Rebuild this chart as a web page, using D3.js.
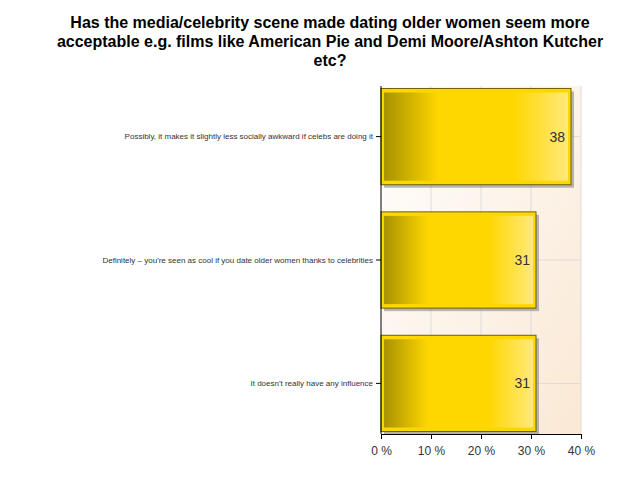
<!DOCTYPE html><html><head><meta charset="utf-8">
<script src="https://cdn.jsdelivr.net/npm/d3@7"></script>
<style>body{margin:0;background:#fff;font-family:Arial,"Liberation Sans",sans-serif}</style></head><body>
<svg id="c" width="640" height="480"></svg>
<script>
const categories=["Possibly, it makes it slightly less socially awkward if celebs are doing it","Definitely – you're seen as cool if you date older women thanks to celebrities","It doesn't really have any influence"];
const values=[38,31,31];
const ticks=[0,10,20,30,40];
const svg=d3.select("#c");
const L=381,R=581,T=86,B=434;
const x=d3.scaleLinear().domain([0,40]).range([L,R]);
const y=d3.scaleBand().domain(categories).range([T,B]).paddingInner(0.22).paddingOuter(0.02);
const defs=svg.append("defs");
const bg=defs.append("linearGradient").attr("id","bg").attr("x1",0).attr("y1",0).attr("x2",1).attr("y2",1);
bg.append("stop").attr("offset",0).attr("stop-color","#ffffff");
bg.append("stop").attr("offset",1).attr("stop-color","#fae8d4");
const g=defs.append("linearGradient").attr("id","bar");
[[0,"#a89200"],[0.3,"#ffd700"],[0.7,"#ffd700"],[1,"#ffe97a"]].forEach(s=>g.append("stop").attr("offset",s[0]).attr("stop-color",s[1]));
svg.append("text").attr("x",330).attr("text-anchor","middle").attr("font-weight","bold").attr("font-size",16).attr("fill","#000")
 .selectAll("tspan").data(["Has the media/celebrity scene made dating older women seem more","acceptable e.g. films like American Pie and Demi Moore/Ashton Kutcher","etc?"]).join("tspan").attr("x",330).attr("y",(d,i)=>28+i*19).text(d=>d);
svg.append("rect").attr("x",L).attr("y",T).attr("width",R-L).attr("height",B-T).attr("fill","url(#bg)");
svg.selectAll(".vg").data(ticks.slice(1)).join("line").attr("x1",d=>x(d)).attr("x2",d=>x(d)).attr("y1",T).attr("y2",B).attr("stroke","#dcdcdc");
svg.selectAll(".hg").data(categories).join("line").attr("x1",L).attr("x2",R).attr("y1",d=>y(d)+y.bandwidth()/2).attr("y2",d=>y(d)+y.bandwidth()/2).attr("stroke","#dcdcdc");
const bars=svg.selectAll(".b").data(categories).join("g");
bars.append("rect").attr("x",L+3).attr("y",d=>y(d)+3).attr("width",(d,i)=>x(values[i])-L).attr("height",y.bandwidth()).attr("fill","#888").attr("opacity",0.6);
bars.append("rect").attr("x",L).attr("y",d=>y(d)).attr("width",(d,i)=>x(values[i])-L).attr("height",y.bandwidth()).attr("fill","#ffd700").attr("stroke","#6b6000").attr("stroke-width",1);
bars.append("rect").attr("x",L+3).attr("y",d=>y(d)+4).attr("width",(d,i)=>x(values[i])-L-6).attr("height",y.bandwidth()-8).attr("fill","url(#bar)");
bars.append("text").attr("x",(d,i)=>x(values[i])-6).attr("y",d=>y(d)+y.bandwidth()/2+5).attr("text-anchor","end").attr("font-size",14).attr("fill","#333").text((d,i)=>values[i]);
const xa=svg.append("g").attr("transform",`translate(0,${B})`).call(d3.axisBottom(x).tickValues(ticks).tickSize(5).tickFormat(d=>d+" %"));
xa.select(".domain").attr("stroke","#000");
xa.selectAll("text").attr("font-size",12).attr("fill","#333").attr("dy","1.1em");
const ya=svg.append("g").attr("transform",`translate(${L},0)`).call(d3.axisLeft(y).tickSize(5).tickSizeOuter(0));
ya.select(".domain").attr("stroke","#000").attr("d",`M0,${T}V${B}`);
ya.selectAll("text").attr("font-size",8).attr("fill","#333");
svg.selectAll(".tick line").attr("stroke","#000");
</script></body></html>
